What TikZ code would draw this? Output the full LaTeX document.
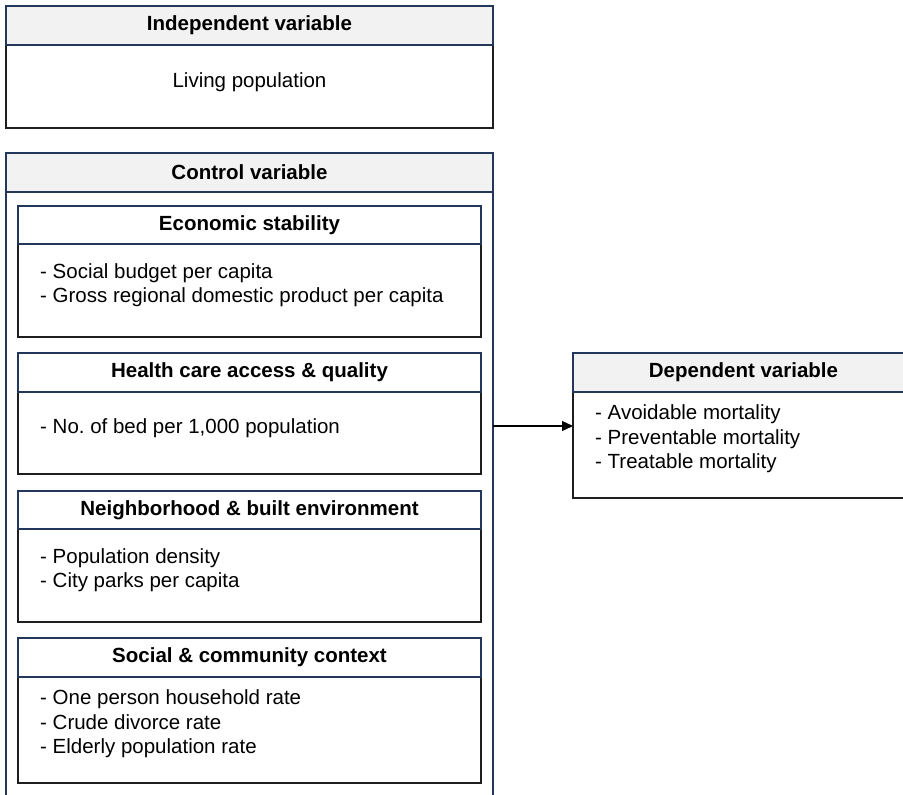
\documentclass[tikz,border=0pt]{standalone}
\usepackage{fontspec}
\setmainfont{Liberation Sans}
\usetikzlibrary{arrows.meta}
\definecolor{navy}{HTML}{22375A}
\definecolor{bodyline}{HTML}{1E1E1E}
\definecolor{hdrgray}{HTML}{F2F2F2}
\frenchspacing
\tikzset{
  x=1pt, y=-1pt,
  boxbase/.style={line width=1.4pt, inner sep=0pt, outer sep=0pt, anchor=north west},
  bodybox/.style={boxbase, draw=bodyline, fill=white},
  hdrbox/.style={boxbase, draw=navy, fill=hdrgray},
  hdrwhite/.style={boxbase, draw=navy, fill=white},
  ttl/.style={font=\fontsize{20.5}{24.5}\selectfont\bfseries, inner sep=0pt},
  txt/.style={font=\fontsize{20.5}{24.5}\selectfont, inner sep=0pt, align=left},
  conn/.style={line width=1.3pt, draw=black, -{Triangle[length=11pt,width=10pt]}}
}
\begin{document}
\begin{tikzpicture}
\useasboundingbox (0,0) rectangle (903,795);
\clip (0,0) rectangle (903,795);
% Independent variable
\node[bodybox, minimum width=487pt, minimum height=83pt] (indb) at (6,45) {};
\node[hdrbox, minimum width=487pt, minimum height=39pt] (indh) at (6,6) {};
\node[ttl] (indt) at (indh.center) {Independent variable};
\node[txt] (indx) at (249.5,82) {Living population};
% Control variable
\node[bodybox, draw=navy, minimum width=487pt, minimum height=660pt] (ctrl) at (6,192) {};
\node[hdrbox, minimum width=487pt, minimum height=39pt] (ctrlh) at (6,153) {};
\node[ttl] (ctrlt) at (ctrlh.center) {Control variable};
% Economic stability
\node[bodybox, minimum width=463pt, minimum height=93pt] (ecob) at (18,244) {};
\node[hdrwhite, minimum width=463pt, minimum height=38pt] (ecoh) at (18,206) {};
\node[ttl] (ecot) at (ecoh.center) {Economic stability};
\node[txt, anchor=west] (ecox) at (40,285) {- Social budget per capita\\- Gross regional domestic product per capita};
% Health care
\node[bodybox, minimum width=463pt, minimum height=82pt] (hcb) at (18,392) {};
\node[hdrwhite, minimum width=463pt, minimum height=39pt] (hch) at (18,353) {};
\node[ttl] (hct) at (hch.center) {Health care access \& quality};
\node[txt, anchor=west] (hcx) at (40,428) {- No. of bed per 1,000 population};
% Neighborhood
\node[bodybox, minimum width=463pt, minimum height=93pt] (nbb) at (18,529) {};
\node[hdrwhite, minimum width=463pt, minimum height=38pt] (nbh) at (18,491) {};
\node[ttl] (nbt) at (nbh.center) {Neighborhood \& built environment};
\node[txt, anchor=west] (nbx) at (40,570) {- Population density\\- City parks per capita};
% Social
\node[bodybox, minimum width=463pt, minimum height=106pt] (scb) at (18,677) {};
\node[hdrwhite, minimum width=463pt, minimum height=39pt] (sch) at (18,638) {};
\node[ttl] (sct) at (sch.center) {Social \& community context};
\node[txt, anchor=west] (scx) at (40,724) {- One person household rate\\- Crude divorce rate\\- Elderly population rate};
% Dependent variable
\node[bodybox, minimum width=341pt, minimum height=106pt] (depb) at (573,392) {};
\node[hdrbox, minimum width=341pt, minimum height=39pt] (deph) at (573,353) {};
\node[ttl] (dept) at (deph.center) {Dependent variable};
\node[txt, anchor=west] (depx) at (595,439) {- Avoidable mortality\\- Preventable mortality\\- Treatable mortality};
% Connector
\coordinate (ay) at (0,426);
\draw[conn] (ctrl.east |- ay) -- (depb.west |- ay);
\end{tikzpicture}
\end{document}
